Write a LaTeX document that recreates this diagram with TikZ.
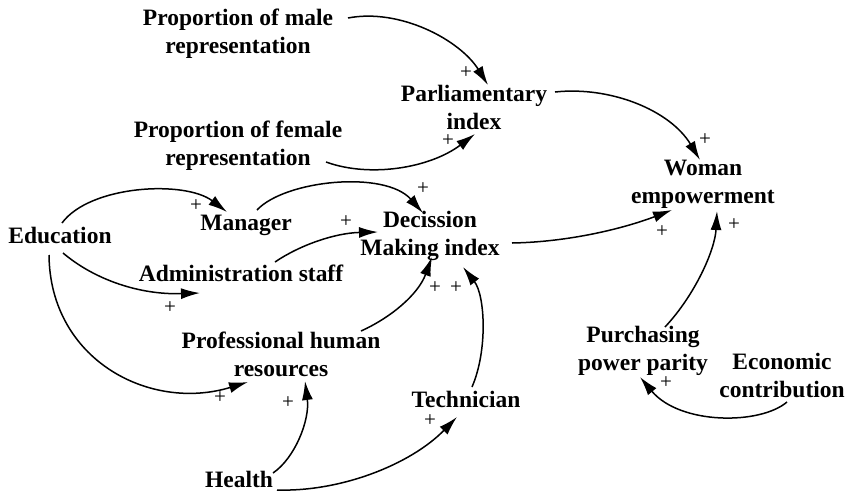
\documentclass[tikz,border=0pt]{standalone}
\usepackage{fontspec}
\setmainfont{Liberation Serif}
\usetikzlibrary{arrows.meta}
\begin{document}
\begin{tikzpicture}[x=1pt,y=-1pt,
  var/.style={align=center,inner sep=0pt,font=\fontsize{23.5}{28}\selectfont\bfseries},
  link/.style={line width=1.5pt,-{Latex[length=19pt,width=11pt]}},
  pol/.style={inner sep=0pt,font=\fontsize{21}{21}\selectfont}]
\useasboundingbox (0,0) rectangle (847,491);

% variables
\node[var] (male)    at (238,34)  {Proportion of male\\representation};
\node[var] (female)  at (238,146) {Proportion of female\\representation};
\node[var] (parl)    at (474,107) {Parliamentary\\index};
\node[var] (woman)   at (703,184) {Woman\\empowerment};
\node[var] (edu)     at (60,235)  {Education};
\node[var] (manager) at (246,225) {Manager};
\node[var] (decis)   at (430,236) {Decission\\Making index};
\node[var] (admin)   at (241,273) {Administration staff};
\node[var] (prof)    at (281,354) {Professional human\\resources};
\node[var] (tech)    at (466,399) {Technician};
\node[var] (health)  at (239,479) {Health};
\node[var] (purch)   at (643,351) {Purchasing\\power parity};
\node[var] (econ)    at (782,375) {Economic\\contribution};

% causal links
\draw[link] ([shift={(110,-16)}]male.center) .. controls (400,8) and (460,40) .. ([shift={(14,-22)}]parl.center);
\draw[link] ([shift={(88,16)}]female.center) .. controls (370,178) and (430,168) .. ([shift={(1,27)}]parl.center);
\draw[link] ([shift={(81,-15)}]parl.center) .. controls (610,86) and (670,110) .. ([shift={(-3,-24)}]woman.center);
\draw[link] ([shift={(2,-12)}]edu.center) .. controls (90,185) and (185,180) .. ([shift={(-19,-13)}]manager.center);
\draw[link] ([shift={(11,-15)}]manager.center) .. controls (285,180) and (385,170) .. ([shift={(-7,-23)}]decis.center);
\draw[link] ([shift={(34,-11)}]admin.center) .. controls (300,245) and (335,233) .. ([shift={(-52,-4)}]decis.center);
\draw[link] ([shift={(3,18)}]edu.center) .. controls (95,280) and (140,295) .. ([shift={(-41,20)}]admin.center);
\draw[link] ([shift={(-11,20)}]edu.center) .. controls (50,360) and (150,412) .. ([shift={(-33,28)}]prof.center);
\draw[link] ([shift={(80,-23)}]prof.center) .. controls (390,318) and (418,295) .. ([shift={(2,21)}]decis.center);
\draw[link] ([shift={(6,-12)}]tech.center) .. controls (488,350) and (485,295) .. ([shift={(33,31)}]decis.center);
\draw[link] ([shift={(34,-6)}]health.center) .. controls (295,458) and (310,420) .. ([shift={(24,27)}]prof.center);
\draw[link] ([shift={(38,11)}]health.center) .. controls (340,492) and (410,465) .. ([shift={(-9,18)}]tech.center);
\draw[link] ([shift={(82,7)}]decis.center) .. controls (570,242) and (625,228) .. ([shift={(-31,26)}]woman.center);
\draw[link] ([shift={(22,-24)}]purch.center) .. controls (695,295) and (715,250) .. ([shift={(14,27)}]woman.center);
\draw[link] ([shift={(5,27)}]econ.center) .. controls (760,425) and (680,425) .. ([shift={(-3,26)}]purch.center);

% link polarities
\node[pol] (p1)  at (466,73)  {+};
\node[pol] (p2)  at (448,141) {+};
\node[pol] (p3)  at (705,140) {+};
\node[pol] (p4)  at (196,206) {+};
\node[pol] (p5)  at (423,189) {+};
\node[pol] (p6)  at (346,222) {+};
\node[pol] (p7)  at (170,308) {+};
\node[pol] (p8)  at (220,398) {+};
\node[pol] (p9)  at (435,288) {+};
\node[pol] (p10) at (456,288) {+};
\node[pol] (p11) at (288,403) {+};
\node[pol] (p12) at (430,421) {+};
\node[pol] (p13) at (662,232) {+};
\node[pol] (p14) at (734,225) {+};
\node[pol] (p15) at (666,383) {+};
\end{tikzpicture}
\end{document}
